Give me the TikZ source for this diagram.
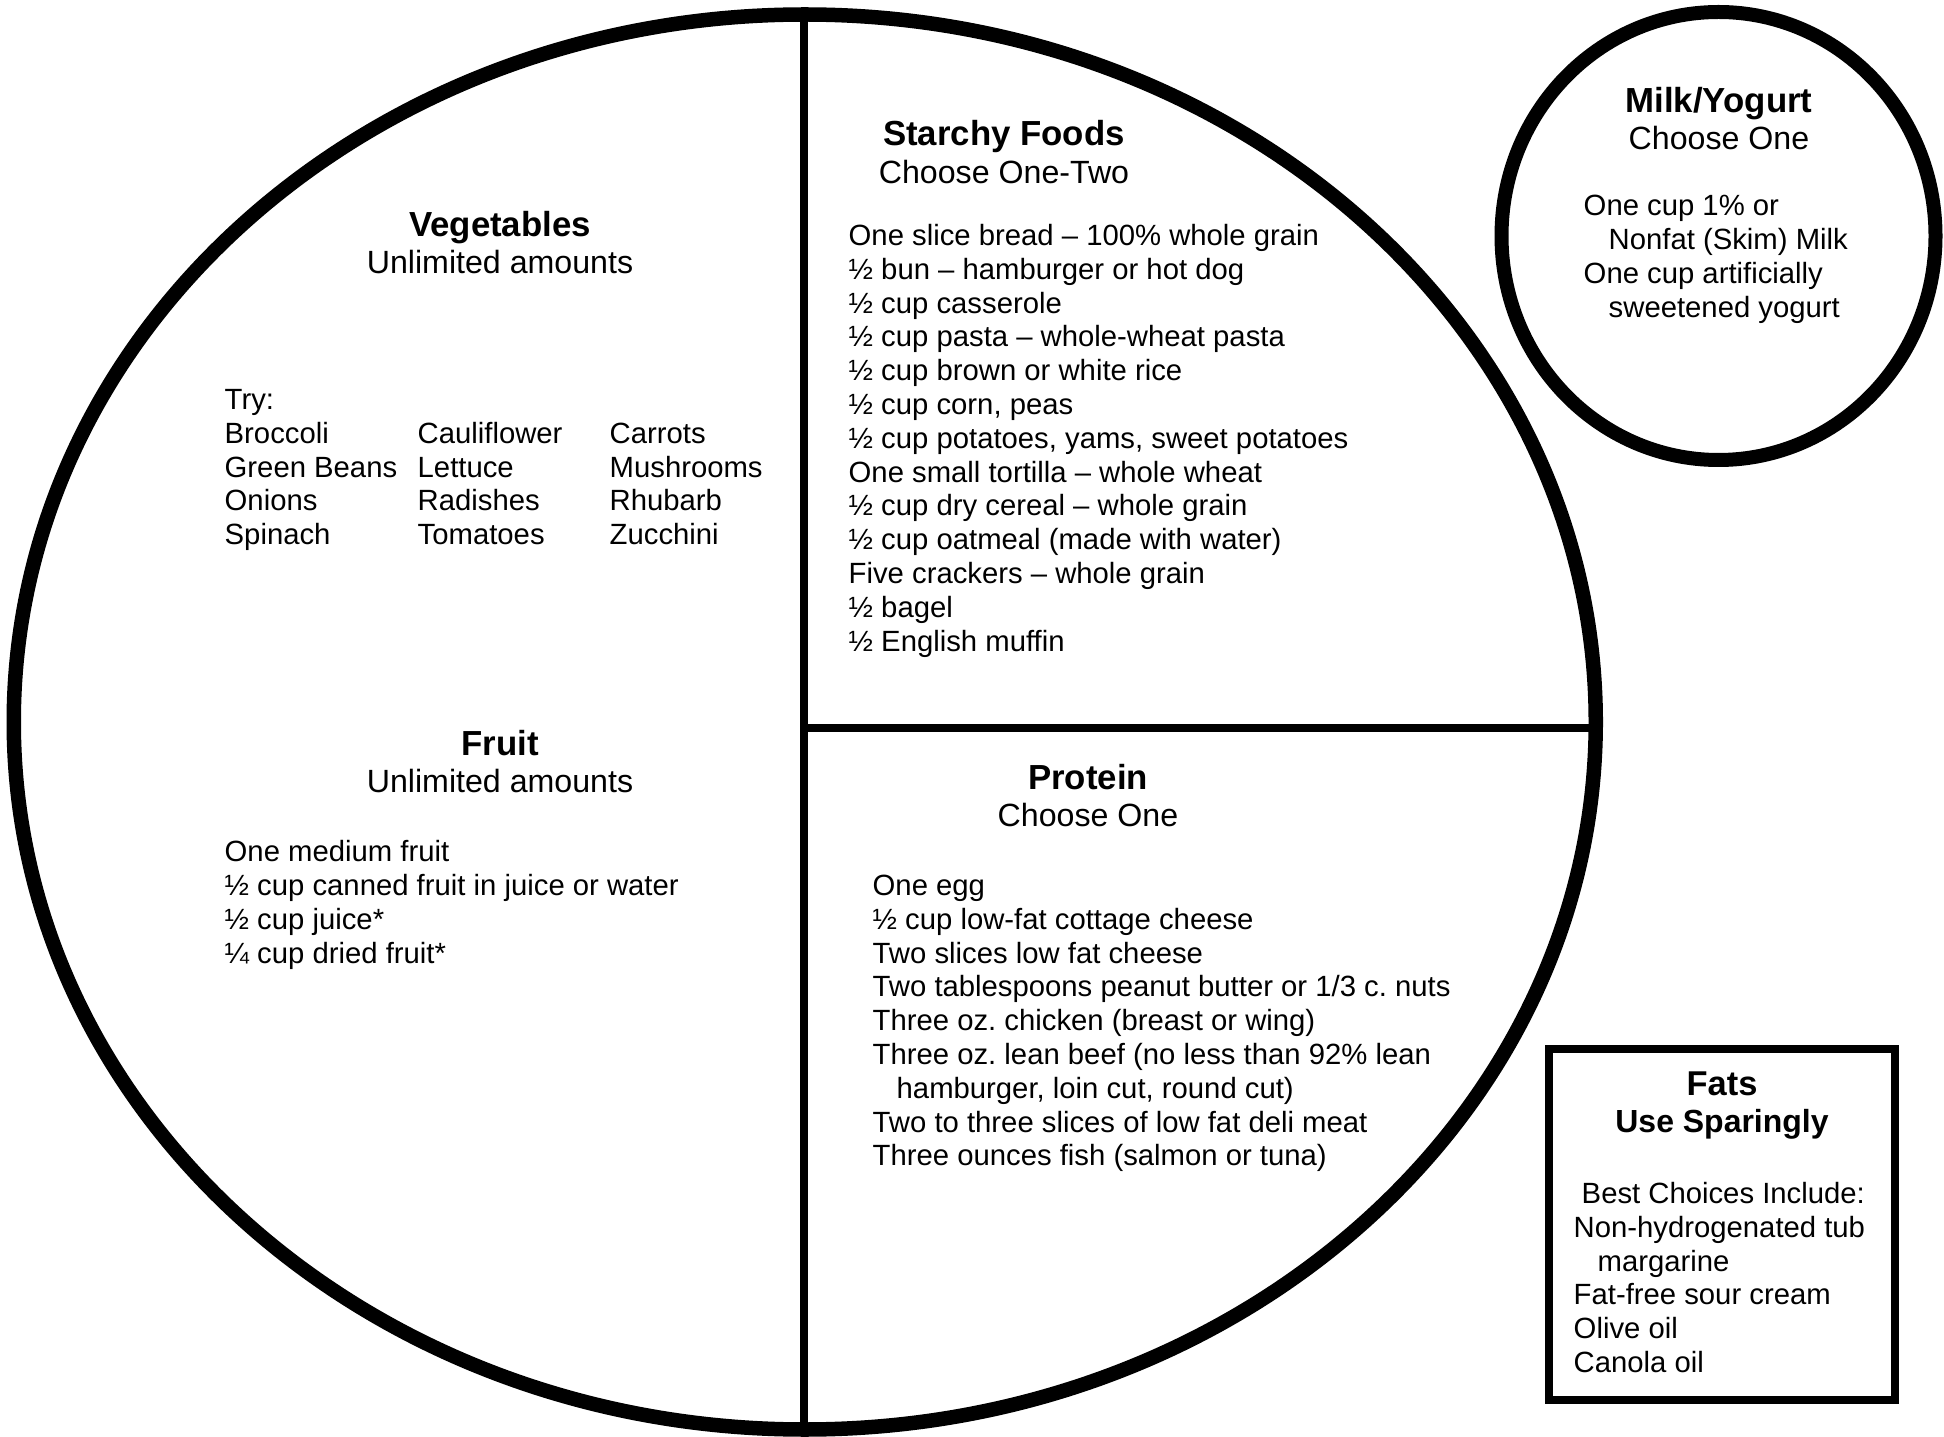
\documentclass[tikz,border=0pt]{standalone}
\usepackage{fontspec}
\setmainfont{Liberation Sans}
\frenchspacing
\begin{document}
\begin{tikzpicture}[x=0.1mm,y=-0.1mm,
	plate/.style={line width=1.45mm},
	divider/.style={line width=0.85mm},
	head/.style={anchor=base,inner sep=0pt,font=\bfseries\fontsize{9.9}{11}\selectfont},
	sub/.style={anchor=base,inner sep=0pt,font=\fontsize{9.15}{11}\selectfont},
	item/.style={anchor=base west,inner sep=0pt,font=\fontsize{8.33}{9.6}\selectfont\frenchspacing}]
	\useasboundingbox (0,0) rectangle (1944,1437);
	\draw [plate] (804.75,722) ellipse [x radius=791, y radius=707.5];
	\draw [divider] (804,15) -- (804,1429);
	\draw [divider] (804,728) -- (1596,728);
	\draw [plate, line width=1.4mm] (1718.5,236) ellipse [x radius=217, y radius=224];
	\draw [line width=0.8mm] (1549,1049) rectangle (1894.5,1400);

	\node [head] (veg) at (500,237) {Vegetables};
	\node [sub] (vegsub) at (500,274) {Unlimited amounts};
	\node [item] (try) at (224,410) {Try:};
	\node [item] (veg11) at (224,444) {Broccoli};
	\node [item] (veg12) at (417,444) {Cauliflower};
	\node [item] (veg13) at (609,444) {Carrots};
	\node [item] (veg21) at (224,478) {Green Beans};
	\node [item] (veg22) at (417,478) {Lettuce};
	\node [item] (veg23) at (609,478) {Mushrooms};
	\node [item] (veg31) at (224,511) {Onions};
	\node [item] (veg32) at (417,511) {Radishes};
	\node [item] (veg33) at (609,511) {Rhubarb};
	\node [item] (veg41) at (224,545) {Spinach};
	\node [item] (veg42) at (417,545) {Tomatoes};
	\node [item] (veg43) at (609,545) {Zucchini};

	\node [head] (fruit) at (500,755) {Fruit};
	\node [sub] (fruitsub) at (500,792) {Unlimited amounts};
	\node [item] (fruit1) at (224,861) {One medium fruit};
	\node [item] (fruit2) at (224,895) {½ cup canned fruit in juice or water};
	\node [item] (fruit3) at (224,929) {½ cup juice*};
	\node [item] (fruit4) at (224,963) {¼ cup dried fruit*};

	\node [head] (starch) at (1004,146) {Starchy Foods};
	\node [sub] (starchsub) at (1004,184) {Choose One-Two};
	\node [item] (starch1) at (848,246) {One slice bread – 100\% whole grain};
	\node [item] (starch2) at (848,280) {½ bun – hamburger or hot dog};
	\node [item] (starch3) at (848,314) {½ cup casserole};
	\node [item] (starch4) at (848,347) {½ cup pasta – whole-wheat pasta};
	\node [item] (starch5) at (848,381) {½ cup brown or white rice};
	\node [item] (starch6) at (848,415) {½ cup corn, peas};
	\node [item] (starch7) at (848,449) {½ cup potatoes, yams, sweet potatoes};
	\node [item] (starch8) at (848,483) {One small tortilla – whole wheat};
	\node [item] (starch9) at (848,516) {½ cup dry cereal – whole grain};
	\node [item] (starch10) at (848,550) {½ cup oatmeal (made with water)};
	\node [item] (starch11) at (848,584) {Five crackers – whole grain};
	\node [item] (starch12) at (848,618) {½ bagel};
	\node [item] (starch13) at (848,652) {½ English muffin};

	\node [head] (prot) at (1088,789) {Protein};
	\node [sub] (protsub) at (1088,826) {Choose One};
	\node [item] (prot1) at (872,895) {One egg};
	\node [item] (prot2) at (872,929) {½ cup low-fat cottage cheese};
	\node [item] (prot3) at (872,963) {Two slices low fat cheese};
	\node [item] (prot4) at (872,996) {Two tablespoons peanut butter or 1/3 c. nuts};
	\node [item] (prot5) at (872,1030) {Three oz. chicken (breast or wing)};
	\node [item] (prot6) at (872,1064) {Three oz. lean beef (no less than 92\% lean};
	\node [item] (prot7) at (896,1098) {hamburger, loin cut, round cut)};
	\node [item] (prot8) at (872,1132) {Two to three slices of low fat deli meat};
	\node [item] (prot9) at (872,1165) {Three ounces fish (salmon or tuna)};

	\node [head] (milk) at (1719,113) {Milk/Yogurt};
	\node [sub] (milksub) at (1719,150) {Choose One};
	\node [item] (milk1) at (1583,216) {One cup 1\% or};
	\node [item] (milk2) at (1608,250) {Nonfat (Skim) Milk};
	\node [item] (milk3) at (1583,284) {One cup artificially};
	\node [item] (milk4) at (1608,318) {sweetened yogurt};

	\node [head, font=\bfseries\fontsize{9.8}{11}\selectfont] (fats) at (1722,1095) {Fats};
	\node [head, font=\bfseries\fontsize{9.1}{11}\selectfont] (fatssub) at (1722,1132) {Use Sparingly};
	\node [item] (best) at (1581,1203) {Best Choices Include:};
	\node [item] (fats1) at (1573,1237) {Non-hydrogenated tub};
	\node [item] (fats2) at (1597,1271) {margarine};
	\node [item] (fats3) at (1573,1304) {Fat-free sour cream};
	\node [item] (fats4) at (1573,1338) {Olive oil};
	\node [item] (fats5) at (1573,1372) {Canola oil};
\end{tikzpicture}
\end{document}
